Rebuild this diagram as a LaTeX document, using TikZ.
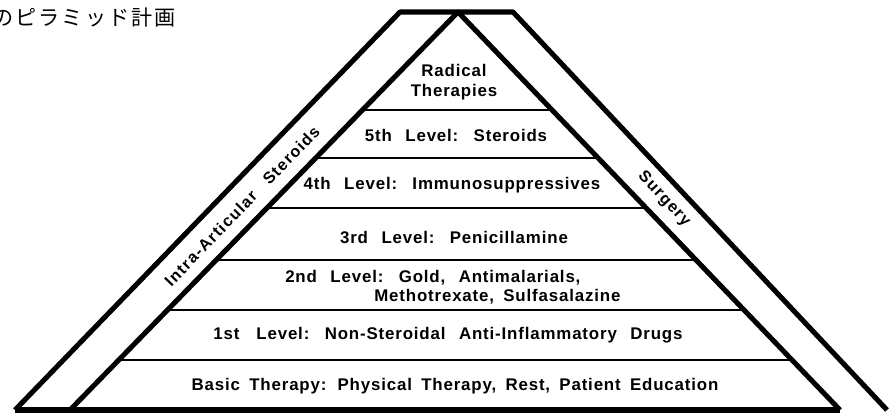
\documentclass[tikz,border=0pt]{standalone}
\usepackage{fontspec}
\setmainfont{Liberation Sans}
\newfontfamily\lvlfamily[LetterSpace=5]{Liberation Sans Bold}
\newfontfamily\sidefamily[LetterSpace=8]{Liberation Sans Bold}
\newfontfamily\titlefamily[LetterSpace=10]{Noto Sans CJK JP}
\newcommand\lvlfont{\lvlfamily\fontsize{12}{14}\selectfont\spaceskip=0.8em\relax}
\newcommand\basicfont{\lvlfont\spaceskip=0.55em\relax}
\newcommand\sidefont{\sidefamily\fontsize{11.5}{12}\selectfont\spaceskip=0.8em\relax}
\usetikzlibrary{calc}
\tikzset{
  band/.style={line width=3.6pt, line join=round},
  rung/.style={line width=1.5pt},
  lvl/.style={font=\lvlfont, inner sep=0pt, align=center},
  side/.style={font=\sidefont, inner sep=0pt},
}

\begin{document}
\begin{tikzpicture}[x=0.025cm, y=-0.025cm]
\useasboundingbox (0,0) rectangle (891,414);
% corners of the pyramid
\coordinate (apex) at (458,12);
\coordinate (topL) at (400,12);
\coordinate (topR) at (513,12);
\coordinate (outL) at (15,410);
\coordinate (outR) at (887,410);
\coordinate (inL) at (70,410);
\coordinate (inR) at (840,410);

\draw[band] (outL) -- (topL) -- (topR) -- (outR);
\draw[band] (inL) -- (apex) -- (inR);
\draw[band] (outL) -- (inR);
\foreach \t in {0.246,0.367,0.492,0.623,0.749,0.874}
  \draw[rung] ($(apex)!\t!(inL)$) -- ($(apex)!\t!(inR)$);

% levels
\node[lvl] (radical) at (454,82) {Radical\\Therapies};
\node[lvl] (fifth) at (456,135) {5th Level: Steroids};
\node[lvl] (fourth) at (452,185) {4th Level: Immunosuppressives};
\node[lvl] (third) at (454,237) {3rd Level: Penicillamine};
\node[lvl, anchor=west] (secondA) at (285,278) {2nd Level: Gold, Antimalarials,};
\node[lvl, font=\basicfont, anchor=west] (secondB) at (374,297) {Methotrexate, Sulfasalazine};
\node[lvl] (first) at (448,335) {1st\quad Level: Non-Steroidal Anti-Inflammatory Drugs};
\node[lvl, font=\basicfont] (basic) at (455,386) {Basic Therapy: Physical Therapy, Rest, Patient Education};

% side bands
\node[side, rotate=46] (intra) at (242,206) {Intra-Articular\quad Steroids};
\node[side, rotate=-47] (surgery) at (664,199) {Surgery};

\node[anchor=west, inner sep=0pt, font=\titlefamily\fontsize{15}{17}\selectfont] (title) at (-8,18) {のピラミッド計画};
\end{tikzpicture}
\end{document}
